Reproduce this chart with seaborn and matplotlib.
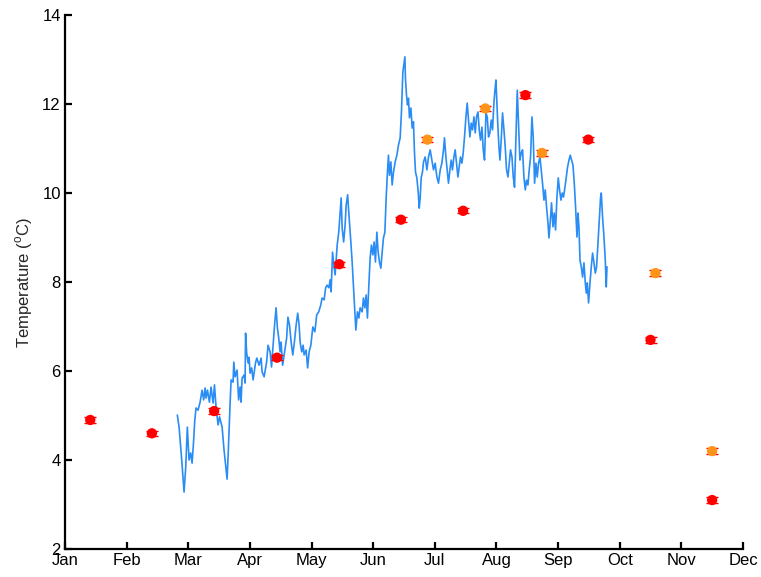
import numpy as np
import pandas as pd
import matplotlib
matplotlib.use("Agg")
import matplotlib.pyplot as plt
import seaborn as sns

# Month labels (axis positions 0..11 = Jan..Dec)
months = ["Jan", "Feb", "Mar", "Apr", "May", "Jun",
          "Jul", "Aug", "Sep", "Oct", "Nov", "Dec"]

# Continuous logger record: time in months since 1 Jan, temperature in deg C
logger_time = [
    1.823, 1.851, 1.894, 1.932, 1.959, 1.985, 2.013, 2.039, 2.062, 2.083,
    2.106, 2.127, 2.159, 2.192, 2.224, 2.250, 2.273, 2.289, 2.312, 2.343,
    2.370, 2.403, 2.425, 2.451, 2.484, 2.508, 2.549, 2.581, 2.614, 2.630,
    2.646, 2.662, 2.679, 2.695, 2.727, 2.739, 2.760, 2.792, 2.817, 2.841,
    2.857, 2.873, 2.906, 2.922, 2.930, 2.948, 2.971, 2.987, 3.003, 3.029,
    3.052, 3.068, 3.091, 3.112,
    3.149, 3.182, 3.198, 3.231, 3.271, 3.295, 3.328, 3.351, 3.377, 3.404,
    3.425, 3.446, 3.468, 3.490, 3.506, 3.531, 3.563, 3.596, 3.617, 3.643,
    3.669, 3.696, 3.722, 3.750, 3.776, 3.799, 3.815, 3.841, 3.864, 3.880,
    3.912, 3.937, 3.961, 3.989, 4.021, 4.054, 4.084, 4.117, 4.149, 4.172,
    4.205, 4.229, 4.253, 4.282, 4.302, 4.318, 4.341, 4.362, 4.383, 4.416,
    4.442, 4.458, 4.481, 4.497, 4.521, 4.545, 4.562, 4.586, 4.607,
    4.638, 4.659, 4.680, 4.703, 4.719, 4.745, 4.768, 4.789, 4.821, 4.843,
    4.865, 4.886, 4.907, 4.930, 4.951, 4.972, 4.995, 5.016, 5.037, 5.060,
    5.081, 5.102, 5.125, 5.146, 5.167, 5.190, 5.211, 5.232, 5.248, 5.265,
    5.287, 5.308, 5.330, 5.357, 5.385, 5.411, 5.438, 5.459, 5.482, 5.498,
    5.515, 5.524, 5.541, 5.557, 5.573, 5.589, 5.612, 5.633, 5.654, 5.670,
    5.687, 5.709, 5.731, 5.747, 5.763, 5.779, 5.800, 5.817,
    5.844, 5.872, 5.898, 5.925, 5.953, 5.979, 6.006, 6.034, 6.060, 6.088,
    6.115, 6.141, 6.157, 6.180, 6.201, 6.222, 6.245, 6.266, 6.287, 6.310,
    6.331, 6.352, 6.375, 6.396, 6.417, 6.440, 6.461, 6.482, 6.505, 6.526,
    6.547, 6.570, 6.591, 6.612, 6.635, 6.656, 6.677, 6.700, 6.721, 6.742,
    6.765, 6.786, 6.807, 6.830, 6.851, 6.872, 6.894, 6.916, 6.937, 6.959,
    6.976, 6.992, 7.008, 7.024, 7.041, 7.057, 7.078, 7.099, 7.122, 7.143,
    7.164, 7.187, 7.208, 7.229, 7.252, 7.273, 7.294,
    7.317, 7.338, 7.359, 7.381, 7.403, 7.424, 7.446, 7.468, 7.489, 7.511,
    7.532, 7.554, 7.576, 7.597, 7.619, 7.641, 7.662, 7.683, 7.706, 7.727,
    7.748, 7.771, 7.792, 7.813, 7.836, 7.852, 7.873, 7.894, 7.917, 7.938,
    7.959, 7.982, 8.003, 8.024, 8.047, 8.068, 8.089, 8.112, 8.133, 8.154,
    8.177, 8.198, 8.219, 8.242, 8.263, 8.284, 8.307, 8.323, 8.339, 8.356,
    8.377, 8.398, 8.420, 8.442, 8.458, 8.474, 8.495, 8.518, 8.539, 8.560,
    8.583, 8.604, 8.625, 8.648, 8.669, 8.690, 8.701, 8.722, 8.745, 8.766,
    8.782, 8.794,
]
logger_temp = [
    5.01, 4.74, 4.00, 3.28, 3.84, 4.74, 4.00, 4.16, 3.93, 4.34,
    4.90, 5.17, 5.12, 5.30, 5.57, 5.35, 5.62, 5.39, 5.57, 5.30,
    5.64, 5.28, 5.69, 5.19, 4.79, 4.97, 4.74, 4.22, 3.78, 3.57,
    4.07, 4.67, 5.28, 5.80, 5.75, 6.20, 5.87, 6.02, 5.35, 5.64,
    5.30, 5.84, 5.91, 5.73, 6.85, 6.40, 6.18, 6.31, 5.95, 6.07,
    5.80, 5.95, 6.18, 6.29,
    6.13, 6.29, 5.98, 5.87, 6.20, 6.58, 6.43, 6.09, 6.58, 7.10,
    7.42, 6.97, 6.74, 6.43, 6.65, 6.13, 6.43, 6.74, 7.21, 7.03,
    6.65, 6.36, 6.65, 7.03, 7.30, 7.03, 6.65, 6.43, 6.58, 6.36,
    6.47, 6.07, 6.43, 6.58, 6.99, 6.88, 7.26, 7.33, 7.48, 7.64,
    7.60, 7.87, 7.93, 7.87, 8.05, 7.78, 8.67, 8.38, 8.16, 8.83,
    9.12, 9.44, 9.89, 9.21, 8.90, 9.28, 9.73, 9.96, 9.51,
    8.90, 8.45, 7.93, 7.33, 6.92, 7.33, 7.19, 7.42, 7.33, 7.64,
    7.42, 7.71, 7.19, 7.93, 8.54, 8.83, 8.61, 8.90, 8.45, 9.12,
    8.67, 8.45, 8.31, 8.67, 8.99, 9.12, 9.89, 10.47, 10.85, 10.40,
    10.70, 10.18, 10.47, 10.70, 10.85, 11.08, 11.24, 11.82, 12.72, 12.88,
    13.06, 12.58, 12.20, 11.98, 12.13, 11.69, 11.91, 11.46, 11.60, 10.92,
    10.47, 10.34, 10.02, 9.66, 9.89, 10.34, 10.47, 10.70,
    10.81, 10.52, 10.81, 10.97, 10.74, 10.52, 10.67, 10.36, 10.22, 10.52,
    10.67, 10.97, 11.24, 10.81, 10.52, 10.22, 10.52, 10.74, 10.52, 10.81,
    10.97, 10.67, 10.36, 10.58, 10.81, 10.67, 10.90, 11.26, 11.71, 12.02,
    11.64, 11.26, 11.57, 11.42, 11.71, 11.35, 11.71, 11.82, 11.42, 11.19,
    11.48, 10.97, 10.74, 11.80, 11.71, 11.26, 11.35, 11.64, 11.42, 12.02,
    12.31, 12.54, 12.02, 11.48, 11.03, 10.74, 11.19, 11.80, 11.42, 11.03,
    10.52, 10.36, 10.67, 10.97, 10.81, 10.36, 10.13,
    11.26, 12.31, 11.57, 10.74, 10.90, 10.97, 10.36, 10.07, 10.29, 10.18,
    10.52, 10.81, 11.71, 11.26, 10.22, 10.67, 10.36, 10.67, 10.81, 10.52,
    10.22, 9.84, 10.07, 9.69, 9.33, 8.99, 9.35, 9.78, 9.24, 9.55,
    9.17, 9.91, 10.34, 10.07, 9.84, 10.00, 9.91, 10.13, 10.36, 10.58,
    10.74, 10.85, 10.74, 10.63, 10.22, 9.69, 9.01, 9.55, 9.24, 8.49,
    8.34, 8.11, 8.43, 7.98, 7.75, 7.98, 7.53, 7.98, 8.34, 8.65,
    8.43, 8.20, 8.34, 8.88, 9.39, 9.91, 10.00, 9.46, 9.01, 8.49,
    7.89, 8.34,
]

# Monthly spot measurements (red) and second-site measurements (orange)
red_time = [0.41, 1.41, 2.42, 3.44, 4.45, 5.45, 6.46, 7.47, 8.49, 9.50, 10.50]
red_temp = [4.9, 4.6, 5.1, 6.3, 8.4, 9.4, 9.6, 12.2, 11.2, 6.7, 3.1]
orange_time = [5.88, 6.82, 7.74, 9.58, 10.50]
orange_temp = [11.2, 11.9, 10.9, 8.2, 4.2]
meas_err = 0.06

sns.set_style("ticks")
plt.rcParams["font.family"] = ["Liberation Sans", "DejaVu Sans"]
plt.rcParams["mathtext.fontset"] = "custom"
plt.rcParams["mathtext.rm"] = "Liberation Sans"

fig = plt.figure(figsize=(7.61, 5.77), dpi=100)
ax = fig.add_axes([0.0854, 0.0485, 0.8909, 0.9255])

logger = pd.DataFrame({"time": logger_time, "temp": logger_temp})
sns.lineplot(data=logger, x="time", y="temp", ax=ax, color="#2A8CF5",
             linewidth=1.2, sort=False, estimator=None)

red = pd.DataFrame({"time": red_time, "temp": red_temp})
orange = pd.DataFrame({"time": orange_time, "temp": orange_temp})

for df, face in ((red, "#FF0000"), (orange, "#FF9419")):
    ax.errorbar(df["time"], df["temp"], yerr=meas_err, fmt="none",
                ecolor="#FF0000", elinewidth=1.0, capsize=4.5, capthick=1.0,
                zorder=3)
    sns.scatterplot(data=df, x="time", y="temp", ax=ax, color=face,
                    s=55, edgecolor="none", zorder=4, legend=False)

ax.set_xlim(0, 11)
ax.set_ylim(2, 14)
ax.set_xticks(range(len(months)))
ax.set_xticklabels(months)
ax.set_yticks(np.arange(2, 15, 2))
ax.set_xlabel("")
ax.set_ylabel(r"Temperature ($^{\rm o}$C)", fontsize=12, labelpad=5)

for side in ("top", "right"):
    ax.spines[side].set_visible(False)
for side in ("left", "bottom"):
    ax.spines[side].set_linewidth(1.6)
    ax.spines[side].set_color("black")
ax.tick_params(direction="in", length=5, width=1.6, labelsize=12,
               colors="black")
ax.tick_params(axis="x", pad=3)
ax.tick_params(axis="y", pad=3)

fig.savefig("out.png", dpi=100)
